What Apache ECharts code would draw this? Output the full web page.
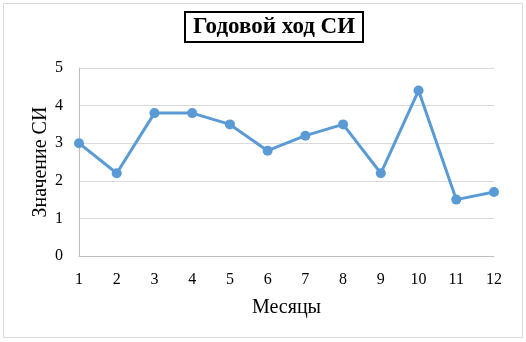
<!DOCTYPE html>
<html><head><meta charset="utf-8">
<script src="https://cdn.jsdelivr.net/npm/echarts@6/dist/echarts.min.js"></script>
<style>html,body{margin:0;padding:0;background:#fff}#c{width:526px;height:342px}</style>
</head><body><div id="c"></div>
<script>
const months = ['1','2','3','4','5','6','7','8','9','10','11','12'];
const values = [3, 2.2, 3.8, 3.8, 3.5, 2.8, 3.2, 3.5, 2.2, 4.4, 1.5, 1.7];
const titleText = 'Годовой ход СИ';
const xName = 'Месяцы';
const yName = 'Значение СИ';
const font = '"Liberation Serif", "Times New Roman", serif';
const chart = echarts.init(document.getElementById('c'), null, {renderer:'canvas'});
chart.setOption({
  animation: false,
  graphic: [{type:'rect', shape:{x:3.5,y:3.5,width:519,height:334}, style:{fill:'none', stroke:'#d9d9d9', lineWidth:1}}],
  title: {text: titleText, left: 185, top: 12, padding:[4,8,3,8], borderColor:'#000', borderWidth:2,
    textStyle:{fontFamily:font, fontWeight:'bold', fontSize:23, color:'#000'}},
  grid: {left:79, right:32, top:68, bottom:86},
  xAxis: {type:'category', data: months, boundaryGap:false,
    name: xName, nameLocation:'middle', nameGap:42, nameMoveOverlap:false,
    nameTextStyle:{fontFamily:font, fontSize:20, color:'#000'},
    axisLine:{lineStyle:{color:'#bfbfbf', width:1}}, axisTick:{show:false},
    axisLabel:{fontFamily:font, fontSize:16, color:'#000', margin:16}},
  yAxis: {type:'value', min:0, max:5, interval:1,
    name: yName, nameLocation:'middle', nameGap:28, nameMoveOverlap:false,
    nameTextStyle:{fontFamily:font, fontSize:20, color:'#000'},
    axisLine:{show:true, lineStyle:{color:'#bfbfbf', width:1}}, axisTick:{show:false},
    splitLine:{lineStyle:{color:'#d9d9d9', width:1}},
    axisLabel:{fontFamily:font, fontSize:16, color:'#000', margin:16}},
  series: [{type:'line', data: values, symbol:'circle', symbolSize:10,
    lineStyle:{color:'#5b9bd5', width:3}, itemStyle:{color:'#5b9bd5'}}]
});
</script></body></html>
